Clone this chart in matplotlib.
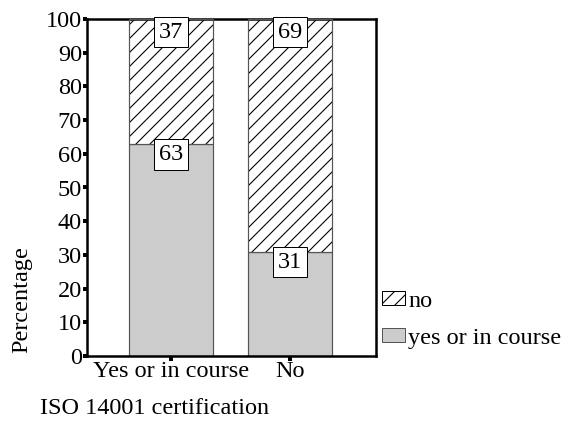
import matplotlib
matplotlib.use("Agg")
import matplotlib.pyplot as plt
from matplotlib.patches import Patch

categories = ["Yes or in course", "No"]
yes_vals = [63, 31]
no_vals = [37, 69]
series_labels = ["yes or in course", "no"]
yticks = list(range(0, 101, 10))

plt.rcParams['font.family'] = ['Liberation Serif', 'DejaVu Serif']

DPI = 84
W, H = 571, 431


def pt(px):
    return px * 72.0 / DPI


FS = pt(24.3)
plt.rcParams['hatch.linewidth'] = pt(1.1)

fig = plt.figure(figsize=(W / DPI, H / DPI), dpi=DPI)
ax = fig.add_axes([87 / W, 1 - 356 / H, (376 - 87) / W, (356 - 19) / H])

x = list(range(len(categories)))
w = 0.706
gray = '#cccccc'
edge = '#555555'

ax.bar(x, yes_vals, width=w, color=gray, edgecolor=edge, linewidth=pt(1.2), zorder=2)
ax.bar(x, no_vals, width=w, bottom=yes_vals, color='white', edgecolor='black',
       hatch='//', linewidth=0, zorder=2)
ax.bar(x, no_vals, width=w, bottom=yes_vals, fill=False, edgecolor=edge,
       linewidth=pt(1.2), zorder=3)

bbox = dict(boxstyle='square,pad=0.2', fc='white', ec='black', lw=pt(1.0))
for xi, yv, nv in zip(x, yes_vals, no_vals):
    ax.annotate(str(yv), (xi, yv), xytext=(0, pt(0)), textcoords='offset points',
                ha='center', va='top', fontsize=FS, bbox=bbox, zorder=5)
    ax.annotate(str(nv), (xi, yv + nv), xytext=(0, pt(-2.5)), textcoords='offset points',
                ha='center', va='top', fontsize=FS, bbox=bbox, zorder=5)

ax.set_xlim(-0.706, 1.72)
ax.set_ylim(0, 100)
ax.set_yticks(yticks)
ax.set_yticklabels([str(t) for t in yticks], fontsize=FS)
ax.set_xticks(x)
ax.set_xticklabels(categories, fontsize=FS)
ax.tick_params(axis='y', direction='out', length=pt(4), width=pt(4), pad=pt(1))
ax.tick_params(axis='x', direction='out', length=pt(5), width=pt(4), pad=pt(0))
for s in ax.spines.values():
    s.set_color('black')
    s.set_linewidth(pt(2.5))

handles = [Patch(facecolor='white', edgecolor='black', hatch='//', linewidth=pt(1.0)),
           Patch(facecolor=gray, edgecolor=edge, linewidth=pt(1.0))]
fig.legend(handles, [series_labels[1], series_labels[0]], loc='upper left',
           bbox_to_anchor=(382 / W, 1 - 291 / H), frameon=False, fontsize=FS,
           handlelength=0.95, handleheight=0.51, handletextpad=0.12,
           labelspacing=0.64, borderaxespad=0, borderpad=0)

fig.text(22 / W, 1 - 300 / H, "Percentage", rotation=90, ha='center', va='center', fontsize=FS)
fig.text(40 / W, 1 - 408 / H, "ISO 14001 certification", ha='left', va='center', fontsize=FS)

fig.savefig("out.png", dpi=DPI)
